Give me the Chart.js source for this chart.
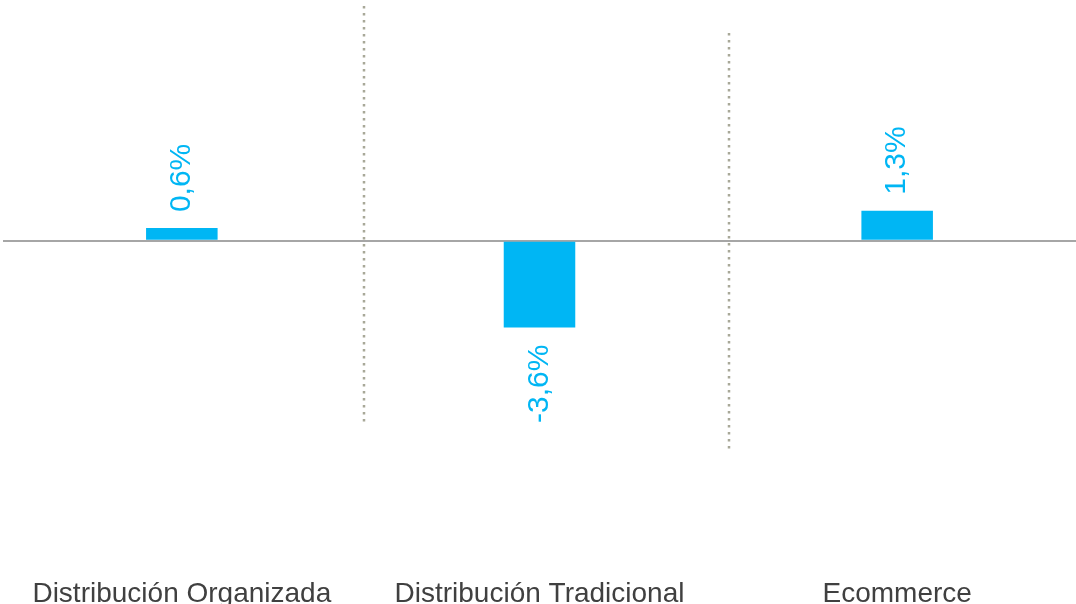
<!DOCTYPE html>
<html>
<head>
<meta charset="utf-8">
<script src="https://cdn.jsdelivr.net/npm/chart.js@4/dist/chart.umd.min.js"></script>
<style>
  html, body { margin: 0; padding: 0; background: #ffffff; }
  #wrap { width: 1076px; height: 604px; position: relative; }
</style>
</head>
<body>
<div id="wrap"><canvas id="c"></canvas></div>
<script>
// ---- data ----
const categories = ['Distribución Organizada', 'Distribución Tradicional', 'Ecommerce'];
const values = [0.53, -3.6, 1.25];
const valueLabels = ['0,6%', '-3,6%', '1,3%'];
// separators: position in category units, and top/bottom in value units
const separatorPos = [0.51, 1.53];
const separatorTop = [9.75, 8.63];
const separatorBottom = [-7.59, -8.71];

const FONT = "'Liberation Sans', Arial, sans-serif";
const BAR_COLOR = '#00B6F4';

const overlay = {
  id: 'overlay',
  beforeDatasetsDraw(chart) {
    const ctx = chart.ctx;
    const xs = chart.scales.x, ys = chart.scales.y;
    ctx.save();
    ctx.strokeStyle = '#a8a898';
    ctx.lineWidth = 2.5;
    ctx.setLineDash([2.5, 4.5]);
    separatorPos.forEach((p, i) => {
      const x = Math.round(xs.getPixelForValue(p));
      ctx.beginPath();
      ctx.moveTo(x, ys.getPixelForValue(separatorTop[i]));
      ctx.lineTo(x, ys.getPixelForValue(separatorBottom[i]));
      ctx.stroke();
    });
    ctx.restore();
  },
  afterDatasetsDraw(chart) {
    const ctx = chart.ctx;
    const meta = chart.getDatasetMeta(0);
    ctx.save();
    ctx.fillStyle = BAR_COLOR;
    ctx.font = '30px ' + FONT;
    ctx.textBaseline = 'middle';
    meta.data.forEach((bar, i) => {
      const v = values[i];
      ctx.save();
      if (v >= 0) {
        ctx.translate(bar.x, bar.y - 16);
        ctx.rotate(-Math.PI / 2);
        ctx.textAlign = 'left';
      } else {
        ctx.translate(bar.x, bar.y + 17);
        ctx.rotate(-Math.PI / 2);
        ctx.textAlign = 'right';
      }
      ctx.fillText(valueLabels[i], 0, 0);
      ctx.restore();
    });
    ctx.restore();
  }
};

new Chart(document.getElementById('c'), {
  type: 'bar',
  data: {
    labels: categories,
    datasets: [{
      data: values,
      backgroundColor: BAR_COLOR,
      borderWidth: 0,
      barPercentage: 0.2,
      categoryPercentage: 1.0
    }]
  },
  options: {
    responsive: true,
    maintainAspectRatio: false,
    animation: false,
    layout: { padding: { left: 3, right: 0, top: 0, bottom: 0 } },
    plugins: { legend: { display: false }, tooltip: { enabled: false } },
    scales: {
      x: {
        grid: { display: false },
        border: { display: false },
        ticks: { color: '#404040', font: { family: FONT, size: 28 }, padding: 15, maxRotation: 0, autoSkip: false },
        afterFit(scale) { scale.height = 50; }
      },
      y: {
        min: -13, max: 10,
        border: { display: false },
        ticks: { display: false },
        grid: {
          drawTicks: false,
          color: (c) => c.tick && c.tick.value === 0 ? '#a6a6a6' : 'rgba(0,0,0,0)',
          lineWidth: 2
        },
        afterBuildTicks(scale) { scale.ticks = [{ value: 0 }]; },
        afterFit(scale) { scale.width = 0; }
      }
    }
  },
  plugins: [overlay]
});
</script>
</body>
</html>
